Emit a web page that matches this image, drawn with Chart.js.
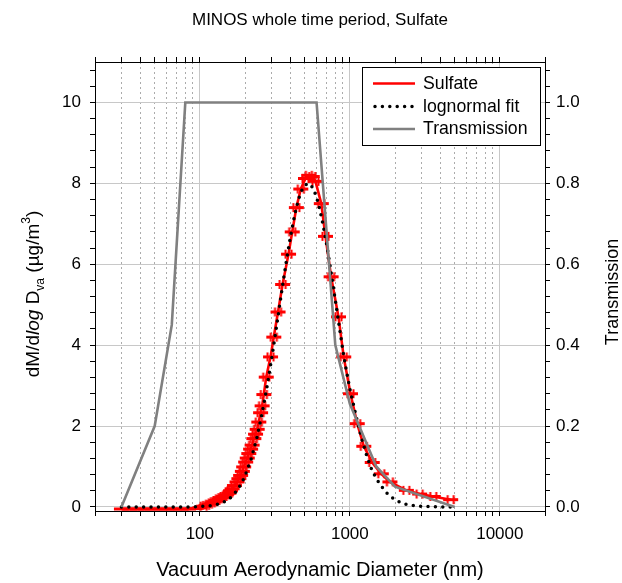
<!DOCTYPE html>
<html><head><meta charset="utf-8">
<script src="https://cdn.jsdelivr.net/npm/chart.js@4.4.1/dist/chart.umd.min.js"></script>
<style>html,body{margin:0;padding:0;background:#fff;}canvas{display:block;}</style>
</head><body>
<canvas id="c" width="622" height="583"></canvas>
<script>
const FONT = '"Liberation Sans", Arial, Helvetica, sans-serif';

// ---- data ----
const sulfateD = [30,34,38,43,48,54,60,67,75,84,93,100,
  106,110,115,120,124,129,134,139,144,150,156,160,164,170,177,182,187,192,196,202,207,212,218,223,229,235,241,247,254,
  260,267,277,296,311,332,356,390,413,440,471,506,533,561,590,
  645,688,750,840,910,1010,1120,1239,1410,1620,1850,2380,2920,3600,4700];
const sulfateV = [-0.05,-0.05,-0.05,-0.05,-0.05,-0.05,-0.05,-0.05,-0.05,-0.05,-0.04,-0.02,
  0.02,0.04,0.07,0.10,0.13,0.16,0.20,0.23,0.26,0.30,0.34,0.40,0.45,0.53,0.62,0.70,0.78,0.88,0.99,1.11,1.21,1.32,1.43,1.53,1.69,1.80,1.92,2.10,2.33,
  2.50,2.78,3.21,3.71,4.20,4.82,5.50,6.25,6.80,7.40,7.86,8.12,8.20,8.17,8.05,
  7.50,6.69,5.69,4.70,3.71,2.80,2.06,1.50,1.10,0.82,0.62,0.41,0.32,0.26,0.18];

const fitD = [30,40,50,60,70,80,90,100,110,120,130,140,150,160,170,180,190,200,220,240,260,280,300,320,340,360,380,400,420,440,460,480,500,525,550,575,600,630,660,690,720,750,780,810,850,900,950,1000,1100,1200,1300,1400,1500,1600,1700,1800,1900,2000,2200,2400,2700,3000,3500,4000,4900];
const fitV = [0,0,0,0,0,0,0,0.01,0.02,0.03,0.06,0.10,0.15,0.23,0.33,0.45,0.59,0.77,1.19,1.71,2.31,2.96,3.63,4.31,4.97,5.59,6.15,6.64,7.06,7.40,7.66,7.84,7.95,8.00,7.96,7.84,7.65,7.36,7.01,6.63,6.22,5.80,5.38,4.98,4.46,3.85,3.35,2.92,2.25,1.68,1.25,0.92,0.70,0.55,0.41,0.31,0.24,0.18,0.10,0.06,0.03,0.015,0.005,0,0];

const transD = [30,50,65,80,600,800,1000,1500,2000,5000];
const transV = [0,0.2,0.45,1.0,1.0,0.4,0.255,0.1,0.05,0];

const xTickValues = [20,30,40,50,60,70,80,90,100,200,300,400,500,600,700,800,900,1000,2000,3000,4000,5000,6000,7000,8000,9000,10000,20000];
const xLabelValues = [100,1000,10000];
const yTickValues = [0,0.4,0.8,1.2,1.6,2,2.4,2.8,3.2,3.6,4,4.4,4.8,5.2,5.6,6,6.4,6.8,7.2,7.6,8,8.4,8.8,9.2,9.6,10,10.4,10.8];
const yLabelValues = [0,2,4,6,8,10];
const y2LabelValues = [0,0.2,0.4,0.6,0.8,1.0];

// ---- styling ----
const GRID = '#c8c8c8';
const DOT_GRID = '#ababab';
const NONE = 'rgba(0,0,0,0)';
Chart.defaults.font.family = FONT;
Chart.defaults.font.size = 17;
Chart.defaults.color = '#000';

function makeMarker(caps) {
  const c = document.createElement('canvas');
  c.width = 17; c.height = 11;
  const g = c.getContext('2d');
  g.strokeStyle = '#ff0000';
  g.lineWidth = 3;
  g.beginPath(); g.moveTo(1, 5.5); g.lineTo(16, 5.5); g.stroke();
  if (caps) {
    g.lineWidth = 2;
    g.beginPath(); g.moveTo(5.5, 1); g.lineTo(5.5, 10); g.moveTo(11.5, 1); g.lineTo(11.5, 10); g.stroke();
  }
  return c;
}
const markerCaps = makeMarker(true);
const markerPlain = makeMarker(false);

const isDecade = v => xLabelValues.includes(v);
const isYMajor = v => yLabelValues.includes(v);

const titlesPlugin = {
  id: 'titlesPlugin',
  afterDraw(chart) {
    const ctx = chart.ctx;
    const ca = chart.chartArea;
    ctx.save();
    ctx.fillStyle = '#000';
    // main title
    ctx.font = '17px ' + FONT;
    ctx.textAlign = 'center';
    ctx.textBaseline = 'middle';
    ctx.fillText('MINOS whole time period, Sulfate', (ca.left + ca.right) / 2, 20);
    // right title
    ctx.save();
    ctx.font = '18px ' + FONT;
    ctx.translate(613, 292);
    ctx.rotate(-Math.PI / 2);
    ctx.fillText('Transmission', 0, 0);
    ctx.restore();
    // left title with sub/superscripts
    ctx.save();
    ctx.translate(39, 294);
    ctx.rotate(-Math.PI / 2);
    ctx.textAlign = 'left';
    ctx.textBaseline = 'alphabetic';
    const big = '19px ' + FONT, ital = 'italic 19px ' + FONT, small = '12px ' + FONT;
    const parts = [
      {t: 'dM/d', f: big, dy: 0},
      {t: 'log', f: ital, dy: 0},
      {t: ' D', f: big, dy: 0},
      {t: 'va', f: small, dy: 5},
      {t: ' (\u00b5g/m', f: big, dy: 0},
      {t: '3', f: small, dy: -9},
      {t: ')', f: big, dy: 0}
    ];
    let w = 0;
    parts.forEach(p => { ctx.font = p.f; p.w = ctx.measureText(p.t).width; w += p.w; });
    let x = -w / 2;
    parts.forEach(p => { ctx.font = p.f; ctx.fillText(p.t, x, p.dy); x += p.w; });
    ctx.restore();

    // legend
    const lx = 362, ly = 67, lw = 179, lh = 79;
    ctx.fillStyle = '#fff';
    ctx.fillRect(lx, ly, lw, lh);
    ctx.strokeStyle = '#000';
    ctx.lineWidth = 1;
    ctx.strokeRect(lx + 0.5, ly + 0.5, lw - 1, lh - 1);
    const rows = [
      {label: 'Sulfate', color: '#ff0000', width: 2.6, dash: [], cap: 'butt'},
      {label: 'lognormal fit', color: '#000', width: 3.5, dash: [0, 7.4], cap: 'round'},
      {label: 'Transmission', color: '#808080', width: 2.6, dash: [], cap: 'butt'}
    ];
    const rowY = [83.5, 106.5, 129];
    rows.forEach((r, i) => {
      ctx.save();
      ctx.strokeStyle = r.color; ctx.lineWidth = r.width; ctx.setLineDash(r.dash); ctx.lineCap = r.cap;
      ctx.beginPath();
      if (r.cap === 'round') { ctx.moveTo(375, rowY[i]); ctx.lineTo(416, rowY[i]); }
      else { ctx.moveTo(373, rowY[i]); ctx.lineTo(415, rowY[i]); }
      ctx.stroke();
      ctx.restore();
      ctx.fillStyle = '#000';
      ctx.font = '17.7px ' + FONT;
      ctx.textAlign = 'left';
      ctx.textBaseline = 'middle';
      ctx.fillText(r.label, 423, rowY[i] + 0.5);
    });
    ctx.restore();
  }
};

new Chart(document.getElementById('c'), {
  type: 'line',
  data: {
    datasets: [
      {
        label: 'Sulfate',
        data: sulfateD.map((d, i) => ({x: d, y: sulfateV[i]})),
        xAxisID: 'x', yAxisID: 'y',
        borderColor: '#ff0000', borderWidth: 2.6,
        pointStyle: (c) => (sulfateV[c.dataIndex] > 0.005 ? markerCaps : markerPlain),
        pointRadius: 3,
        tension: 0, fill: false, order: 3
      },
      {
        label: 'lognormal fit',
        data: fitD.map((d, i) => ({x: d, y: fitV[i]})),
        xAxisID: 'x', yAxisID: 'y',
        borderColor: '#000000', borderWidth: 3.5,
        borderDash: [0, 7.4], borderCapStyle: 'round',
        pointRadius: 0, tension: 0, fill: false, order: 2
      },
      {
        label: 'Transmission',
        data: transD.map((d, i) => ({x: d, y: transV[i]})),
        xAxisID: 'x', yAxisID: 'y2',
        borderColor: '#808080', borderWidth: 2.6,
        pointRadius: 0, tension: 0, fill: false, order: 1
      }
    ]
  },
  options: {
    responsive: false,
    animation: false,
    events: [],
    devicePixelRatio: 1,
    layout: {padding: 0},
    plugins: {legend: {display: false}, title: {display: false}, tooltip: {enabled: false}},
    scales: {
      x: {
        type: 'logarithmic', position: 'bottom', min: 20, max: 20000,
        afterBuildTicks: s => { s.ticks = xTickValues.map(v => ({value: v, major: isDecade(v)})); },
        afterFit: s => { s.height = 72; },
        ticks: {
          autoSkip: false, maxRotation: 0, minRotation: 0, padding: 8,
          font: {size: 17},
          callback: v => (xLabelValues.includes(v) ? String(v) : '')
        },
        grid: {
          color: c => (c.tick && isDecade(c.tick.value) ? GRID : NONE),
          lineWidth: 1,
          tickColor: '#000', tickLength: 5, tickWidth: 1
        },
        border: {display: true, color: '#000', width: 1},
        title: {display: true, text: 'Vacuum Aerodynamic Diameter (nm)', font: {size: 20}, padding: {top: 0, bottom: 1}, color: '#000'}
      },
      xg: {
        type: 'logarithmic', position: 'bottom', min: 20, max: 20000,
        afterBuildTicks: s => { s.ticks = xTickValues.map(v => ({value: v})); },
        afterFit: s => { s.height = 0; },
        ticks: {display: false},
        grid: {
          color: c => (c.tick && !isDecade(c.tick.value) ? DOT_GRID : NONE),
          lineWidth: 1, drawTicks: false
        },
        border: {display: false, dash: [2, 3]}
      },
      xTop: {
        type: 'logarithmic', position: 'top', min: 20, max: 20000,
        afterBuildTicks: s => { s.ticks = xTickValues.map(v => ({value: v})); },
        afterFit: s => { s.height = 62; },
        ticks: {display: false},
        grid: {drawOnChartArea: false, tickColor: '#000', tickLength: 5, tickWidth: 1, color: '#000'},
        border: {display: true, color: '#000', width: 1}
      },
      y: {
        type: 'linear', position: 'left', min: -0.1, max: 11,
        afterBuildTicks: s => { s.ticks = yTickValues.map(v => ({value: v})); },
        afterFit: s => { s.width = 95; },
        ticks: {
          autoSkip: false, padding: 9, font: {size: 17},
          callback: v => (yLabelValues.includes(v) ? String(v) : '')
        },
        grid: {
          color: c => (c.tick && isYMajor(c.tick.value) ? GRID : NONE),
          lineWidth: 1, tickColor: '#000', tickLength: 5, tickWidth: 1
        },
        border: {display: true, color: '#000', width: 1}
      },
      y2: {
        type: 'linear', position: 'right', min: -0.01, max: 1.1,
        afterBuildTicks: s => { s.ticks = yTickValues.map(v => ({value: v / 10})); },
        afterFit: s => { s.width = 77; },
        ticks: {
          autoSkip: false, padding: 6, font: {size: 17},
          callback: v => { const m = y2LabelValues.find(t => Math.abs(t - v) < 1e-9); return m === undefined ? '' : m.toFixed(1); }
        },
        grid: {drawOnChartArea: false, tickColor: '#000', tickLength: 5, tickWidth: 1, color: '#000'},
        border: {display: true, color: '#000', width: 1}
      }
    }
  },
  plugins: [titlesPlugin]
});
</script>
</body></html>
